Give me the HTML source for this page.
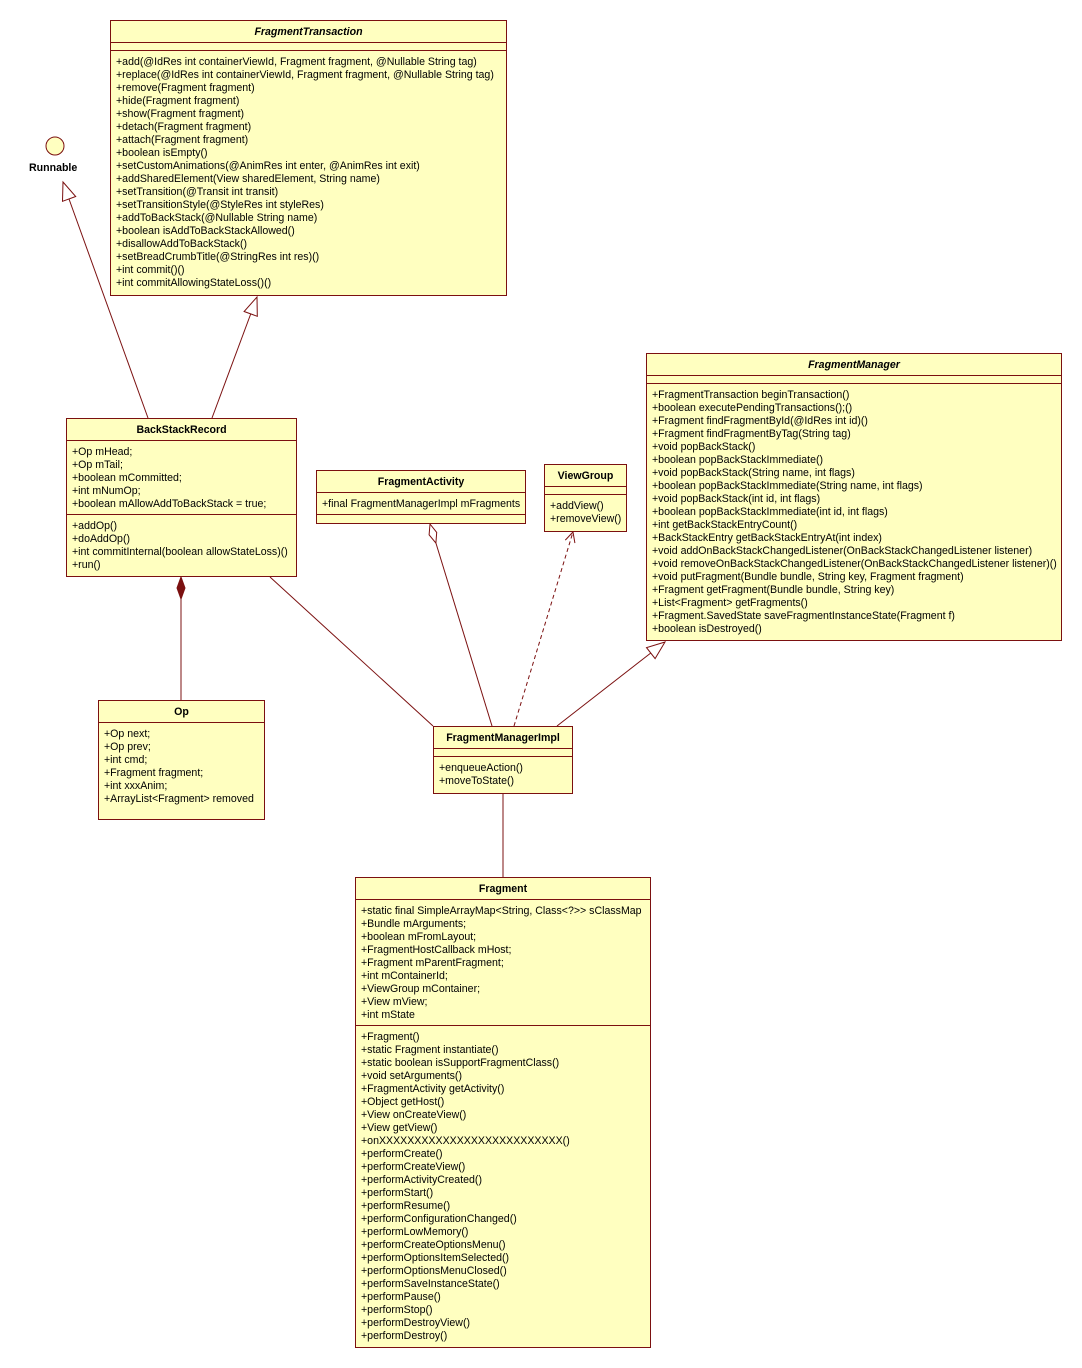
<!DOCTYPE html>
<html><head><meta charset="utf-8"><style>
body{margin:0;width:1082px;height:1368px;background:#fff;position:relative;overflow:hidden;font-family:"Liberation Sans",Tahoma,sans-serif;font-size:10.6px;color:#000}
.b{position:absolute;background:#ffffc0;border:1px solid #7b1010;box-sizing:border-box}
.t{height:21px;line-height:23px;text-align:center;font-weight:bold;border-bottom:1px solid #7b1010;white-space:nowrap;box-sizing:content-box}
.t.i{font-style:italic}
.s{border-bottom:1px solid #7b1010;padding:5px 0 3px 5px;line-height:13px;white-space:nowrap;box-sizing:border-box}
.s:last-child{border-bottom:none}
.e{height:8px;padding:0}
svg{position:absolute;left:0;top:0}
.lbl{position:absolute;font-weight:bold;white-space:nowrap}
</style></head><body>
<svg width="1082" height="1368">
<g stroke="#7b1010" stroke-width="1" fill="none">
<circle cx="55" cy="146" r="9" fill="#ffffc0"/>
<line x1="148" y1="418" x2="69" y2="199"/>
<polygon points="63,182 75.7,196.5 62.5,201.3" fill="#fff"/>
<line x1="212" y1="418" x2="250.7" y2="314"/>
<polygon points="257,297 257.3,316.3 244.1,311.5" fill="#fff"/>
<line x1="181" y1="599" x2="181" y2="700"/>
<polygon points="181,577 185,588 181,599 177,588" fill="#7b1010"/>
<line x1="270" y1="577" x2="433" y2="726"/>
<line x1="435.9" y1="543" x2="492" y2="726"/>
<polygon points="430,524 436.7,532.4 435.9,543.1 429.1,534.8" fill="#fff"/>
<line x1="514" y1="726" x2="573" y2="532" stroke-dasharray="4,3"/>
<polyline points="574.9,543.1 573,532 565.3,540.1"/>
<line x1="557" y1="726" x2="650.8" y2="653"/>
<polygon points="665,642 655.1,658.6 646.5,647.6" fill="#fff"/>
<line x1="503" y1="794" x2="503" y2="877"/>
</g></svg>
<div class="lbl" style="left:29px;top:162px">Runnable</div>

<div class="b" style="left:110px;top:20px;width:397px;height:276px">
<div class="t i">FragmentTransaction</div><div class="s e"></div>
<div class="s">+add(@IdRes int containerViewId, Fragment fragment, @Nullable String tag)<br>+replace(@IdRes int containerViewId, Fragment fragment, @Nullable String tag)<br>+remove(Fragment fragment)<br>+hide(Fragment fragment)<br>+show(Fragment fragment)<br>+detach(Fragment fragment)<br>+attach(Fragment fragment)<br>+boolean isEmpty()<br>+setCustomAnimations(@AnimRes int enter, @AnimRes int exit)<br>+addSharedElement(View sharedElement, String name)<br>+setTransition(@Transit int transit)<br>+setTransitionStyle(@StyleRes int styleRes)<br>+addToBackStack(@Nullable String name)<br>+boolean isAddToBackStackAllowed()<br>+disallowAddToBackStack()<br>+setBreadCrumbTitle(@StringRes int res)()<br>+int commit()()<br>+int commitAllowingStateLoss()()</div>
</div>

<div class="b" style="left:66px;top:418px;width:231px;height:159px">
<div class="t">BackStackRecord</div>
<div class="s" style="height:74px">+Op mHead;<br>+Op mTail;<br>+boolean mCommitted;<br>+int mNumOp;<br>+boolean mAllowAddToBackStack = true;</div>
<div class="s">+addOp()<br>+doAddOp()<br>+int commitInternal(boolean allowStateLoss)()<br>+run()</div>
</div>

<div class="b" style="left:316px;top:470px;width:210px;height:54px">
<div class="t">FragmentActivity</div>
<div class="s" style="height:22px">+final FragmentManagerImpl mFragments</div>
<div class="s e"></div>
</div>

<div class="b" style="left:544px;top:464px;width:83px;height:68px">
<div class="t">ViewGroup</div><div class="s e"></div>
<div class="s">+addView()<br>+removeView()</div>
</div>

<div class="b" style="left:646px;top:353px;width:416px;height:288px">
<div class="t i">FragmentManager</div><div class="s e"></div>
<div class="s">+FragmentTransaction beginTransaction()<br>+boolean executePendingTransactions();()<br>+Fragment findFragmentById(@IdRes int id)()<br>+Fragment findFragmentByTag(String tag)<br>+void popBackStack()<br>+boolean popBackStackImmediate()<br>+void popBackStack(String name, int flags)<br>+boolean popBackStackImmediate(String name, int flags)<br>+void popBackStack(int id, int flags)<br>+boolean popBackStackImmediate(int id, int flags)<br>+int getBackStackEntryCount()<br>+BackStackEntry getBackStackEntryAt(int index)<br>+void addOnBackStackChangedListener(OnBackStackChangedListener listener)<br>+void removeOnBackStackChangedListener(OnBackStackChangedListener listener)()<br>+void putFragment(Bundle bundle, String key, Fragment fragment)<br>+Fragment getFragment(Bundle bundle, String key)<br>+List&lt;Fragment&gt; getFragments()<br>+Fragment.SavedState saveFragmentInstanceState(Fragment f)<br>+boolean isDestroyed()</div>
</div>

<div class="b" style="left:98px;top:700px;width:167px;height:120px">
<div class="t">Op</div>
<div class="s">+Op next;<br>+Op prev;<br>+int cmd;<br>+Fragment fragment;<br>+int xxxAnim;<br>+ArrayList&lt;Fragment&gt; removed</div>
</div>

<div class="b" style="left:433px;top:726px;width:140px;height:68px">
<div class="t">FragmentManagerImpl</div><div class="s e"></div>
<div class="s">+enqueueAction()<br>+moveToState()</div>
</div>

<div class="b" style="left:355px;top:877px;width:296px;height:471px">
<div class="t">Fragment</div>
<div class="s" style="height:126px">+static final SimpleArrayMap&lt;String, Class&lt;?&gt;&gt; sClassMap<br>+Bundle mArguments;<br>+boolean mFromLayout;<br>+FragmentHostCallback mHost;<br>+Fragment mParentFragment;<br>+int mContainerId;<br>+ViewGroup mContainer;<br>+View mView;<br>+int mState</div>
<div class="s">+Fragment()<br>+static Fragment instantiate()<br>+static boolean isSupportFragmentClass()<br>+void setArguments()<br>+FragmentActivity getActivity()<br>+Object getHost()<br>+View onCreateView()<br>+View getView()<br>+onXXXXXXXXXXXXXXXXXXXXXXXXXX()<br>+performCreate()<br>+performCreateView()<br>+performActivityCreated()<br>+performStart()<br>+performResume()<br>+performConfigurationChanged()<br>+performLowMemory()<br>+performCreateOptionsMenu()<br>+performOptionsItemSelected()<br>+performOptionsMenuClosed()<br>+performSaveInstanceState()<br>+performPause()<br>+performStop()<br>+performDestroyView()<br>+performDestroy()</div>
</div>
</body></html>
